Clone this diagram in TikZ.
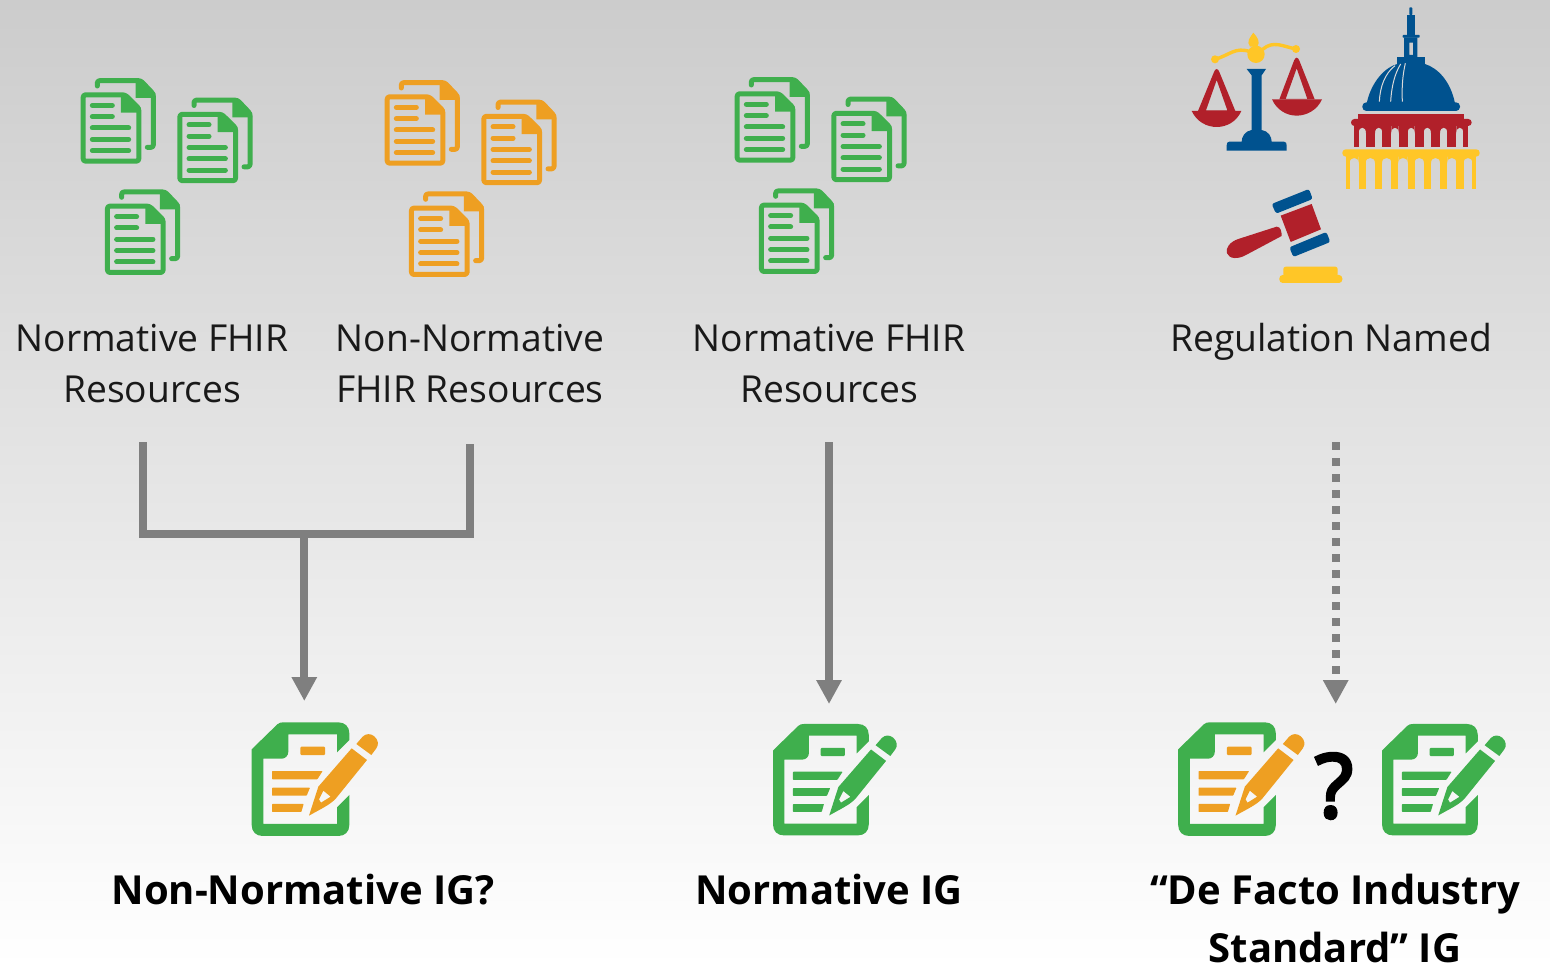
\documentclass[tikz,border=0pt]{standalone}
\usepackage{fontspec}
\setmainfont{Open Sans}
\newfontfamily\qfont[FakeBold=4]{Open Sans}
\usetikzlibrary{arrows.meta}
\definecolor{icongreen}{HTML}{3FAF4D}
\definecolor{iconorange}{HTML}{EE9F22}
\definecolor{capblue}{HTML}{00528F}
\definecolor{capred}{HTML}{B1202A}
\definecolor{capyellow}{HTML}{FFC627}
\definecolor{linegray}{HTML}{7F7F7F}
\tikzset{
  lbl/.style={align=center,inner sep=0pt,text=black!90,font=\fontsize{18.6}{25.5}\selectfont},
  blbl/.style={align=center,inner sep=0pt,text=black,font=\fontsize{20}{29}\selectfont\bfseries},
  conn/.style={draw=linegray,line width=4pt},
  arrowconn/.style={conn,-{Triangle[width=12pt,length=12pt]}},
  dashconn/.style={arrowconn,dash pattern=on 4pt off 4pt},
  pics/docs/.style={code={
    \begin{scope}[x=1pt/6,y=-1pt/6]
      % back page
      \draw[#1,line width=2.5pt,line cap=round,line join=round,rounded corners=1.2pt]
        (82,48) -- (82,32) -- (212,32) -- (250,72) -- (250,232) -- (232,232);
      \fill[#1] (197,30) -- (214,28) -- (256,70) -- (256,84) -- (197,84) -- cycle;
      % front page
      \draw[#1,line width=2.5pt,line join=round,rounded corners=1.2pt]
        (39.5,74.5) -- (165,74.5) -- (206.5,115) -- (206.5,273.5) -- (39.5,273.5) -- cycle;
      \fill[#1] (153,72) -- (168,72) -- (212,113) -- (212,128) -- (153,128) -- cycle;
      \draw[#1,line width=2.5pt,line cap=round]
        (67,106) -- (127,106) (67,140) -- (127,140)
        (67,174) -- (176,174) (67,208) -- (176,208) (67,242) -- (176,242);
    \end{scope}
  }},
  pics/note/.style n args={2}{code={
    \begin{scope}[x=1pt/6,y=-1pt/6]
      \fill[#1,even odd rule]
        (35,238) -- (112,163) .. controls (118,158) and (122,157) .. (130,157)
        -- (295,157) .. controls (315,157) and (328,170) .. (328,190) -- (328,210) -- (291,247)
        -- (291,193) -- (145,193) -- (145,245) .. controls (145,258) and (135,266) .. (125,266)
        -- (70,266) -- (70,462) -- (291,462) -- (291,412) -- (328,375) -- (328,465)
        .. controls (328,485) and (315,498) .. (295,498) -- (68,498)
        .. controls (48,498) and (35,485) .. (35,465) -- cycle;
      \fill[#2,rounded corners=.5pt] (181,230) rectangle (255,255);
      \fill[#2,rounded corners=.3pt] (96,303) -- (248,303) -- (232,328) -- (96,328) -- cycle;
      \fill[#2,rounded corners=.3pt] (96,353) -- (210,353) -- (200,377) -- (96,377) -- cycle;
      \fill[#2,rounded corners=.3pt] (96,402) -- (191,402) -- (184,426) -- (96,426) -- cycle;
      \fill[#2,even odd rule] (207,437) -- (235,350) -- (335,235) -- (381,270) -- (288,385)
        .. controls (270,405) and (240,418) .. (207,437) -- cycle
        (250,362) -- (272,380) -- (243,398) -- (237,388) -- cycle;
      \fill[#2] (349,222) -- (368,200) .. controls (378,190) and (392,190) .. (403,199)
        .. controls (415,210) and (417,224) .. (409,235) -- (394,255) -- cycle;
    \end{scope}
  }},
  pics/scales/.style={code={
    \begin{scope}[x=1pt/6,y=-1pt/6]
      % beam
      \fill[capyellow] (135,178) circle[radius=12] (378,147) circle[radius=12] (258,163) circle[radius=26];
      \draw[capyellow,line width=1.7pt] (135,178) .. controls (180,165) and (195,140) .. (240,155);
      \draw[capyellow,line width=1.7pt] (278,148) .. controls (310,120) and (340,140) .. (378,147);
      \fill[capyellow] (250,98) .. controls (262,112) and (272,125) .. (262,140) -- (240,140) .. controls (228,125) and (240,112) .. (250,98) -- cycle;
      % stand
      \fill[capblue] (230,207) -- (288,207) -- (275,226) -- (275,390)
        .. controls (295,393) and (305,410) .. (305,425) -- (342,425)
        .. controls (348,425) and (350,430) .. (350,436) -- (350,452) -- (170,452) -- (170,436)
        .. controls (170,430) and (172,425) .. (178,425) -- (215,425)
        .. controls (215,410) and (225,393) .. (245,390) -- (245,226) -- cycle;
      % pans
      \fill[capred,even odd rule] (140,207) .. controls (144,207) and (146,212) .. (148,216) -- (196,333) -- (84,333) -- (132,216) .. controls (134,212) and (136,207) .. (140,207) -- cycle
        (140,240) -- (108,331) -- (172,331) -- cycle;
      \fill[capred] (65,333) -- (214,333) .. controls (200,365) and (170,381) .. (140,381) .. controls (110,381) and (80,365) .. (65,333) -- cycle;
      \fill[capred,even odd rule] (380,173) .. controls (384,173) and (386,178) .. (388,182) -- (434,298) -- (328,298) -- (372,182) .. controls (374,178) and (376,173) .. (380,173) -- cycle
        (380,205) -- (347,297) -- (412,297) -- cycle;
      \fill[capred] (306,298) -- (456,298) .. controls (442,330) and (410,347) .. (380,347) .. controls (350,347) and (320,330) .. (306,298) -- cycle;
    \end{scope}
  }},
  pics/capitol/.style={code={
    \begin{scope}[x=1pt/6,y=-1pt/6]
      % spire and dome
      \fill[capblue,rounded corners=.4pt] (718,45) -- (718,22) -- (727,22) -- (727,45) -- cycle;
      \fill[capblue] (712,45) rectangle (734,105);
      \fill[capblue,rounded corners=.3pt] (698,105) rectangle (749,113);
      \fill[capblue,even odd rule] (702,112) rectangle (742,172) (718,128) rectangle (729,165);
      \fill[capblue] (682,172) rectangle (765,194);
      \fill[capblue] (590,310) .. controls (605,240) and (650,200) .. (682,192) -- (765,192)
        .. controls (805,205) and (842,245) .. (855,310) -- cycle;
      \fill[capblue,rounded corners=2pt] (577,307) rectangle (870,333);
      \draw[white!85!black,line width=.5pt] (628,305) .. controls (630,260) and (645,220) .. (675,197)
        (662,305) .. controls (665,255) and (675,220) .. (692,192)
        (697,305) .. controls (695,260) and (698,225) .. (706,190);
      % red storey
      \fill[capred] (565,343) rectangle (882,358);
      \fill[capred,rounded corners=1.7pt] (543,357) rectangle (905,378);
      \foreach \a/\b in {552/566,588/615,637/664,686/713,734/761,783/810,832/859,880/895}
        \fill[capred] (\a,376) rectangle (\b,440);
      \foreach \a/\b in {566/588,615/637,664/686,713/734,761/783,810/832,859/880}
        \fill[capred] (\a,376) -- (\b,376) -- (\b,400) .. controls (\b,388) and (\b-5,383) .. ({(\a+\b)/2},383)
          .. controls (\a+5,383) and (\a,388) .. (\a,400) -- cycle;
      % yellow storey
      \fill[capyellow,rounded corners=1.7pt] (517,448) rectangle (929,470);
      \foreach \a/\b in {528/539,566/587,615/636,664/685,713/734,762/783,810/832,859/881,907/918}
        \fill[capyellow] (\a,468) rectangle (\b,568);
      \foreach \a/\b in {539/566,587/615,636/664,685/713,734/762,783/810,832/859,881/907}
        \fill[capyellow] (\a,468) -- (\b,468) -- (\b,490) .. controls (\b,479) and (\b-5,474) .. ({(\a+\b)/2},474)
          .. controls (\a+5,474) and (\a,479) .. (\a,490) -- cycle;
    \end{scope}
  }},
  pics/gavel/.style={code={
    \begin{scope}[x=1pt/6,y=-1pt/6]
      \fill[capred] (320,680) -- (205,717) .. controls (180,725) and (165,745) .. (171,760)
        .. controls (178,778) and (205,778) .. (228,765) -- (335,708)
        .. controls (335,695) and (332,680) .. (320,680) -- cycle;
      \fill[capred] (332,647) -- (425,612) -- (453,688) -- (362,726) -- cycle;
      \fill[capblue,rounded corners=1.2pt] (305,612) -- (417,567) -- (428,597) -- (318,641) -- cycle;
      \fill[capblue,rounded corners=1.2pt] (358,742) -- (469,696) -- (481,726) -- (370,771) -- cycle;
      \fill[capyellow,rounded corners=1.2pt] (340,830) -- (340,800) -- (503,800) -- (503,830) -- cycle;
      \fill[capyellow,rounded corners=1.7pt] (328,825) rectangle (517,849);
    \end{scope}
  }}
}
\begin{document}
\begin{tikzpicture}[x=0.5pt,y=-0.5pt]
\useasboundingbox (0,0) rectangle (1550,967);
\shade[top color=black!20,bottom color=white] (0,0) rectangle (1550,967);

% document clusters
\pic at (70,70) {docs=icongreen};
\pic at (166.7,89.5) {docs=icongreen};
\pic at (94.3,181.3) {docs=icongreen};
\pic at (374,72) {docs=iconorange};
\pic at (470.7,91.5) {docs=iconorange};
\pic at (398.3,183.3) {docs=iconorange};
\pic at (724,69) {docs=icongreen};
\pic at (820.7,88.5) {docs=icongreen};
\pic at (748.3,180.3) {docs=icongreen};

% regulation icons
\pic at (1170,0) {scales};
\pic at (1170,0) {capitol};
\pic at (1170,0) {gavel};

% labels
\node[lbl] (l1) at (152,364) {Normative FHIR\\Resources};
\node[lbl] (l2) at (470,364) {Non-Normative\\FHIR Resources};
\node[lbl] (l3) at (829,364) {Normative FHIR\\Resources};
\node[lbl] (l4) at (1331,341.5) {Regulation Named};

% connector ends
\coordinate (a1) at (142.7,442);
\coordinate (a2) at (470,444);
\coordinate (j1) at (142.7,534);
\coordinate (j2) at (470,534);
\coordinate (jm) at (304.3,534);
\coordinate (t1) at (304.3,701);
\coordinate (a3) at (829,442);
\coordinate (t2) at (829,704);
\coordinate (a4) at (1335.7,442);
\coordinate (t3) at (1335.7,704);

\draw[conn,line join=miter] (a1) -- (j1) -- (j2) -- (a2);
\draw[arrowconn] (jm) -- (t1);
\draw[arrowconn] (a3) -- (t2);
\draw[dashconn] (a4) -- (t3);

% note icons
\pic at (240,670) {note={icongreen}{iconorange}};
\pic[scale=.98] at (761.6,672.7) {note={icongreen}{icongreen}};
\pic at (1166.5,670) {note={icongreen}{iconorange}};
\pic[scale=.98] at (1370.6,672.7) {note={icongreen}{icongreen}};

\node[inner sep=0pt,text=black,font=\fontsize{44}{44}\qfont] (q) at (1334,786) {?};

\node[blbl] (b1) at (303,890) {Non-Normative IG?};
\node[blbl] (b2) at (829,889.5) {Normative IG};
\node[blbl] (b3) at (1335,918.5) {“De Facto Industry\\Standard” IG};
\end{tikzpicture}
\end{document}
